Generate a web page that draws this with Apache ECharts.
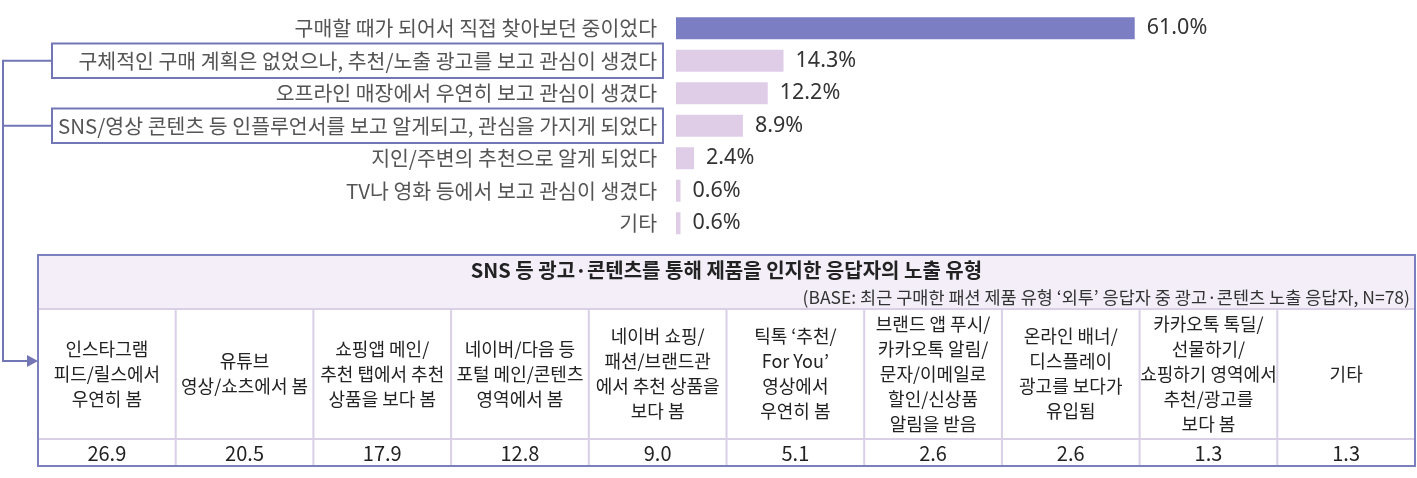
<!DOCTYPE html>
<html>
<head>
<meta charset="utf-8">
<script src="https://cdn.jsdelivr.net/npm/echarts@6/dist/echarts.min.js"></script>
<style>
  html, body { margin: 0; padding: 0; background: #ffffff; }
  #chart { width: 1417px; height: 478px; }
</style>
</head>
<body>
<div id="chart"></div>
<script>
// ---- data ----
const categories = [
  '구매할 때가 되어서 직접 찾아보던 중이었다',
  '구체적인 구매 계획은 없었으나, 추천/노출 광고를 보고 관심이 생겼다',
  '오프라인 매장에서 우연히 보고 관심이 생겼다',
  'SNS/영상 콘텐츠 등 인플루언서를 보고 알게되고, 관심을 가지게 되었다',
  '지인/주변의 추천으로 알게 되었다',
  'TV나 영화 등에서 보고 관심이 생겼다',
  '기타'
];
const values = [61.0, 14.3, 12.2, 8.9, 2.4, 0.6, 0.6];
const boxedIndices = [1, 3];

const tableTitle = 'SNS 등 광고·콘텐츠를 통해 제품을 인지한 응답자의 노출 유형';
const tableBase = '(BASE: 최근 구매한 패션 제품 유형 ‘외투’ 응답자 중 광고·콘텐츠 노출 응답자, N=78)';
const exposureTypes = [
  '인스타그램\n피드/릴스에서\n우연히 봄',
  '유튜브\n영상/쇼츠에서 봄',
  '쇼핑앱 메인/\n추천 탭에서 추천\n상품을 보다 봄',
  '네이버/다음 등\n포털 메인/콘텐츠\n영역에서 봄',
  '네이버 쇼핑/\n패션/브랜드관\n에서 추천 상품을\n보다 봄',
  '틱톡 ‘추천/\nFor You’\n영상에서\n우연히 봄',
  '브랜드 앱 푸시/\n카카오톡 알림/\n문자/이메일로\n할인/신상품\n알림을 받음',
  '온라인 배너/\n디스플레이\n광고를 보다가\n유입됨',
  '카카오톡 톡딜/\n선물하기/\n쇼핑하기 영역에서\n추천/광고를\n보다 봄',
  '기타'
];
const exposureValues = [26.9, 20.5, 17.9, 12.8, 9.0, 5.1, 2.6, 2.6, 1.3, 1.3];

// ---- styles / layout ----
const FONT = '"Noto Sans CJK KR", "Noto Sans", sans-serif';
const NUMFONT = '"Noto Sans", "Noto Sans CJK KR", sans-serif';
const MAIN_COLOR = '#7b7ec3';
const SUB_COLOR = '#dfcde8';
const LINE_COLOR = '#7376b5';
const GRID_LEFT = 676;
const LABEL_MARGIN = 14;
const BOX_CONTENT_W = 599;
const BOX_PAD = [6, 5, 6, 5];
const TABLE = { left: 38, right: 1415, top: 255, headTop: 309, bottom: 466 };
const VALUE_ROW_H = 27;

const chart = echarts.init(document.getElementById('chart'));

const option = {
  backgroundColor: '#ffffff',
  animation: false,
  grid: [
    { left: GRID_LEFT, width: 601.6, top: 12, height: 227.5 },
    { left: TABLE.left, width: TABLE.right - TABLE.left, top: TABLE.headTop, height: TABLE.bottom - TABLE.headTop }
  ],
  xAxis: [
    { type: 'value', gridIndex: 0, min: 0, max: 80, show: false },
    { type: 'category', gridIndex: 1, data: exposureTypes, show: false, boundaryGap: true }
  ],
  yAxis: [
    {
      type: 'category', gridIndex: 0, data: categories, inverse: true,
      axisLine: { show: false }, axisTick: { show: false },
      axisLabel: {
        margin: LABEL_MARGIN,
        formatter: function (v, i) {
          return boxedIndices.indexOf(i) >= 0 ? '{box|' + v + '}' : '{plain|' + v + '}';
        },
        rich: {
          plain: { fontFamily: FONT, fontSize: 20.5, color: '#555555', padding: [0, 5, 0, 0], lineHeight: 22 },
          box: {
            fontFamily: FONT, fontSize: 20.5, color: '#555555', lineHeight: 22,
            width: BOX_CONTENT_W, align: 'right', padding: BOX_PAD,
            borderColor: LINE_COLOR, borderWidth: 2, backgroundColor: '#ffffff'
          }
        }
      }
    },
    { type: 'value', gridIndex: 1, min: 0, max: 1, show: false }
  ],
  series: [
    {
      type: 'bar', xAxisIndex: 0, yAxisIndex: 0,
      data: values.map(function (v, i) {
        return { value: v, itemStyle: { color: i === 0 ? MAIN_COLOR : SUB_COLOR } };
      }),
      barWidth: 22,
      label: {
        show: true, position: 'right', distance: 12,
        formatter: function (p) { return p.value.toFixed(1) + '%'; },
        fontFamily: NUMFONT, fontSize: 21.5, color: '#333333'
      }
    },
    {
      type: 'custom', xAxisIndex: 1, yAxisIndex: 1,
      data: exposureValues.map(function (v, i) { return [i, v]; }),
      renderItem: function (params, api) {
        const cs = params.coordSys;
        const idx = api.value(0);
        const cx = api.coord([idx, 0])[0];
        const w = api.size([1, 0])[0];
        const headH = cs.height - VALUE_ROW_H;
        const children = [
          {
            type: 'line',
            shape: { x1: cx - w / 2, y1: cs.y + headH, x2: cx + w / 2, y2: cs.y + headH },
            style: { stroke: '#d9cfe7', lineWidth: 2 }
          },
          {
            type: 'text',
            style: {
              x: cx, y: cs.y + headH / 2, text: exposureTypes[idx],
              textAlign: 'center', textVerticalAlign: 'middle',
              fontFamily: FONT, fontSize: 18, lineHeight: 25, fill: '#222222'
            }
          },
          {
            type: 'text',
            style: {
              x: cx, y: cs.y + headH + VALUE_ROW_H / 2 + 1, text: api.value(1).toFixed(1),
              textAlign: 'center', textVerticalAlign: 'middle',
              fontFamily: FONT, fontSize: 20, fill: '#222222'
            }
          }
        ];
        if (idx < exposureTypes.length - 1) {
          children.push({
            type: 'line',
            shape: { x1: cx + w / 2, y1: cs.y, x2: cx + w / 2, y2: cs.y + cs.height },
            style: { stroke: '#d9cfe7', lineWidth: 2 }
          });
        }
        return { type: 'group', children: children };
      }
    }
  ]
};

chart.setOption(option);

// connectors from boxed labels to the table, positioned via the category axis
const boxLeft = GRID_LEFT - LABEL_MARGIN - BOX_CONTENT_W - BOX_PAD[1] - BOX_PAD[3];
const yBox1 = chart.convertToPixel({ yAxisIndex: 0 }, categories[boxedIndices[0]]);
const yBox2 = chart.convertToPixel({ yAxisIndex: 0 }, categories[boxedIndices[1]]);
const arrowY = 361;
const trunkX = 3;

chart.setOption({
  graphic: [
    {
      type: 'rect', z: 0,
      shape: { x: TABLE.left, y: TABLE.top, width: TABLE.right - TABLE.left, height: TABLE.headTop - TABLE.top },
      style: { fill: '#f3eef8' }
    },
    {
      type: 'line', z: 1,
      shape: { x1: TABLE.left, y1: TABLE.headTop, x2: TABLE.right, y2: TABLE.headTop },
      style: { stroke: '#d9cfe7', lineWidth: 2 }
    },
    {
      type: 'text', z: 2,
      style: {
        x: (TABLE.left + TABLE.right) / 2, y: 270, text: tableTitle,
        textAlign: 'center', textVerticalAlign: 'middle',
        fontFamily: FONT, fontSize: 20, fontWeight: 'bold', fill: '#222222'
      }
    },
    {
      type: 'text', z: 2,
      style: {
        x: TABLE.right - 5, y: 297, text: tableBase,
        textAlign: 'right', textVerticalAlign: 'middle',
        fontFamily: FONT, fontSize: 17.5, fill: '#333333'
      }
    },
    {
      type: 'rect', z: 20,
      shape: { x: TABLE.left, y: TABLE.top, width: TABLE.right - TABLE.left, height: TABLE.bottom - TABLE.top },
      style: { fill: 'none', stroke: '#7c7fbd', lineWidth: 2 }
    },
    {
      type: 'polyline', z: 20,
      shape: { points: [[boxLeft, yBox1], [trunkX, yBox1], [trunkX, arrowY], [TABLE.left - 10, arrowY]] },
      style: { stroke: LINE_COLOR, lineWidth: 2, fill: 'none' }
    },
    {
      type: 'line', z: 20,
      shape: { x1: boxLeft, y1: yBox2, x2: trunkX, y2: yBox2 },
      style: { stroke: LINE_COLOR, lineWidth: 2 }
    },
    {
      type: 'polygon', z: 20,
      shape: { points: [[TABLE.left - 11, arrowY - 6], [TABLE.left, arrowY], [TABLE.left - 11, arrowY + 6]] },
      style: { fill: LINE_COLOR }
    }
  ]
});
</script>
</body>
</html>
